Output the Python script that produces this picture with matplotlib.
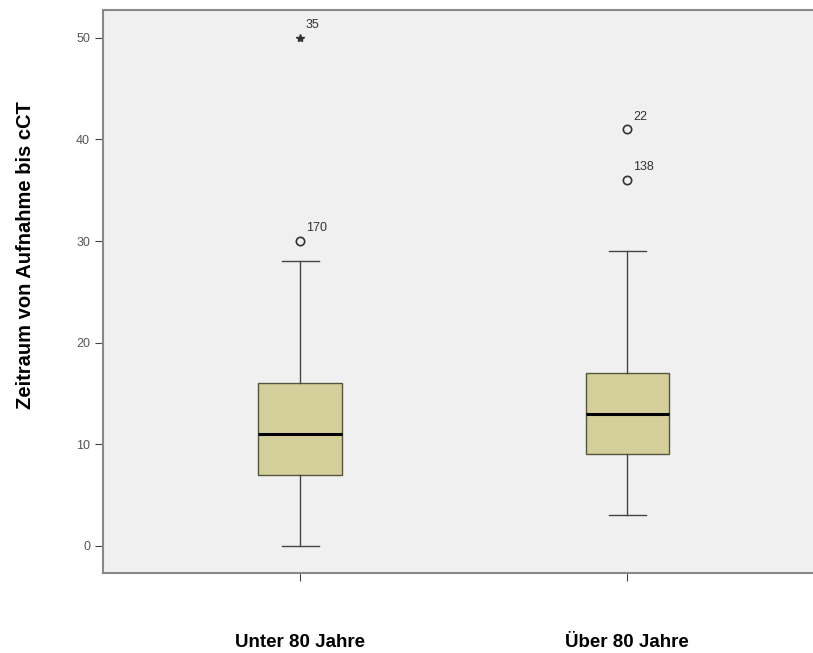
import matplotlib
matplotlib.use('Agg')
import matplotlib.pyplot as plt

gruppen = ['Unter 80 Jahre', 'Über 80 Jahre']
whisker_unten = [0, 3]
q1 = [7, 9]
median = [11, 13]
q3 = [16, 17]
whisker_oben = [28, 29]
ausreisser = [[30], [36, 41]]
ausreisser_nr = [['170'], ['138', '22']]
extremwerte = [[50], []]
extremwerte_nr = [['35'], []]

plt.rcParams['font.family'] = ['Liberation Sans', 'DejaVu Sans']

fig = plt.figure(figsize=(8.13, 6.53), dpi=100)
ax = fig.add_axes([0.127, 0.1225, 0.882, 0.8625])
ax.set_facecolor('#f0f0f0')

stats = []
for i in range(len(gruppen)):
    stats.append({'whislo': whisker_unten[i], 'q1': q1[i], 'med': median[i],
                  'q3': q3[i], 'whishi': whisker_oben[i], 'fliers': []})

pos = [1, 2]
ax.bxp(stats, positions=pos, widths=0.255, patch_artist=True, showfliers=False,
       boxprops=dict(facecolor='#d5cf9c', edgecolor='#55553f', linewidth=1),
       medianprops=dict(color='black', linewidth=2.2),
       whiskerprops=dict(color='#444444', linewidth=1),
       capprops=dict(color='#444444', linewidth=1), capwidths=0.113)

# Ausreißer und Extremwerte mit Fallnummern
for i, p in enumerate(pos):
    for v, nr in zip(ausreisser[i], ausreisser_nr[i]):
        ax.plot(p, v, 'o', mfc='none', mec='#333333', ms=6, mew=1.2)
        ax.annotate(nr, (p, v), xytext=(4, 7), textcoords='offset points',
                    fontsize=9, color='#333333')
    for v, nr in zip(extremwerte[i], extremwerte_nr[i]):
        ax.plot(p, v, '*', color='#333333', ms=6)
        ax.annotate(nr, (p, v), xytext=(4, 7), textcoords='offset points',
                    fontsize=9, color='#333333')

ax.set_xlim(0.398, 2.59)
ax.set_ylim(-2.66, 52.75)
ax.set_yticks([0, 10, 20, 30, 40, 50])
ax.set_xticks(pos)
ax.set_xticklabels(gruppen, fontsize=13.5, fontweight='bold')
ax.tick_params(axis='x', length=6, pad=38, color='#444444')
ax.tick_params(axis='y', length=6, labelsize=9, labelcolor='#555555', color='#444444')

for s in ['left', 'top', 'bottom']:
    ax.spines[s].set_color('#888888')
    ax.spines[s].set_linewidth(1.5)
ax.spines['right'].set_visible(False)

ax.set_ylabel('Zeitraum von Aufnahme bis cCT', fontsize=14.5, fontweight='bold')
ax.yaxis.set_label_coords(-0.095, 0.565)

plt.savefig('out.png', dpi=100)
